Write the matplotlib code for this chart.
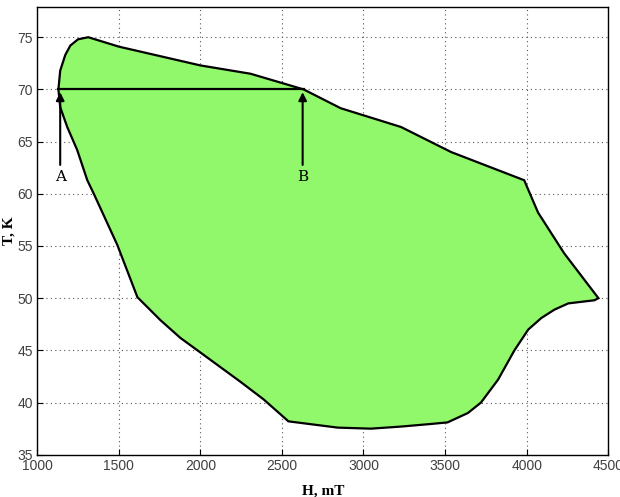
import matplotlib.pyplot as plt
import numpy as np

# boundary of the region, clockwise from point A
H_boundary = [1130, 1141, 1172, 1203, 1250, 1313, 1500, 2000, 2308, 2633, 2860, 3230,
              3537, 3985, 4070, 4230, 4440, 4415, 4255, 4170, 4090, 4010, 3925, 3825,
              3720, 3640, 3515, 3414, 3230, 3045, 2842, 2540, 2388, 2245, 2000, 1877,
              1755, 1614, 1491, 1344, 1307, 1245, 1184, 1141]
T_boundary = [70.0, 71.8, 73.3, 74.2, 74.8, 75.0, 74.1, 72.3, 71.5, 70.0, 68.2, 66.4,
              64.0, 61.3, 58.2, 54.3, 50.0, 49.8, 49.5, 48.9, 48.1, 47.0, 45.0, 42.2,
              40.0, 39.0, 38.1, 37.95, 37.7, 37.5, 37.6, 38.2, 40.3, 42.0, 44.8, 46.2,
              47.9, 50.1, 55.1, 60.1, 61.3, 64.2, 66.4, 68.3]

# points A and B on T = 70 K
point_names = ['A', 'B']
point_H = [1141, 2627]
line_T = 70
arrow_base_T = 62.5

x_ticks = np.arange(1000, 4501, 500)
y_ticks = np.arange(35, 76, 5)

fig = plt.figure(figsize=(6.2, 4.97), dpi=100)
ax = fig.add_axes([0.06, 0.085, 0.921, 0.901])

ax.fill(H_boundary, T_boundary, facecolor='#90f86a', edgecolor='black', linewidth=1.6, zorder=2)
ax.plot([1130, 2633], [line_T, line_T], color='black', linewidth=1.6, zorder=3)

for name, h in zip(point_names, point_H):
    ax.annotate('', xy=(h, line_T), xytext=(h, arrow_base_T),
                arrowprops=dict(arrowstyle='-|>', color='black', lw=1.5, mutation_scale=12),
                zorder=4)
    ax.text(h, arrow_base_T - 0.2, name, ha='center', va='top', fontsize=11,
            family='DejaVu Serif', zorder=4)

ax.set_xlim(1000, 4500)
ax.set_ylim(35, 77.9)
ax.set_xticks(x_ticks)
ax.set_yticks(y_ticks)
ax.tick_params(direction='in', length=4, labelsize=10, colors='black', pad=3)
for lbl in ax.get_xticklabels() + ax.get_yticklabels():
    lbl.set_color('#404040')
    lbl.set_family('Liberation Sans')
ax.grid(True, linestyle=(0, (1, 3)), color='#555555', linewidth=0.8, zorder=1)
ax.set_axisbelow(True)
for sp in ax.spines.values():
    sp.set_linewidth(1.0)

ax.set_xlabel('H, mT', fontsize=11, fontweight='bold', family='Liberation Serif', labelpad=8)
ax.set_ylabel('T, K', fontsize=11, fontweight='bold', family='Liberation Serif')
ax.yaxis.set_label_coords(-0.038, 0.5)

fig.savefig('out.png', dpi=100)
